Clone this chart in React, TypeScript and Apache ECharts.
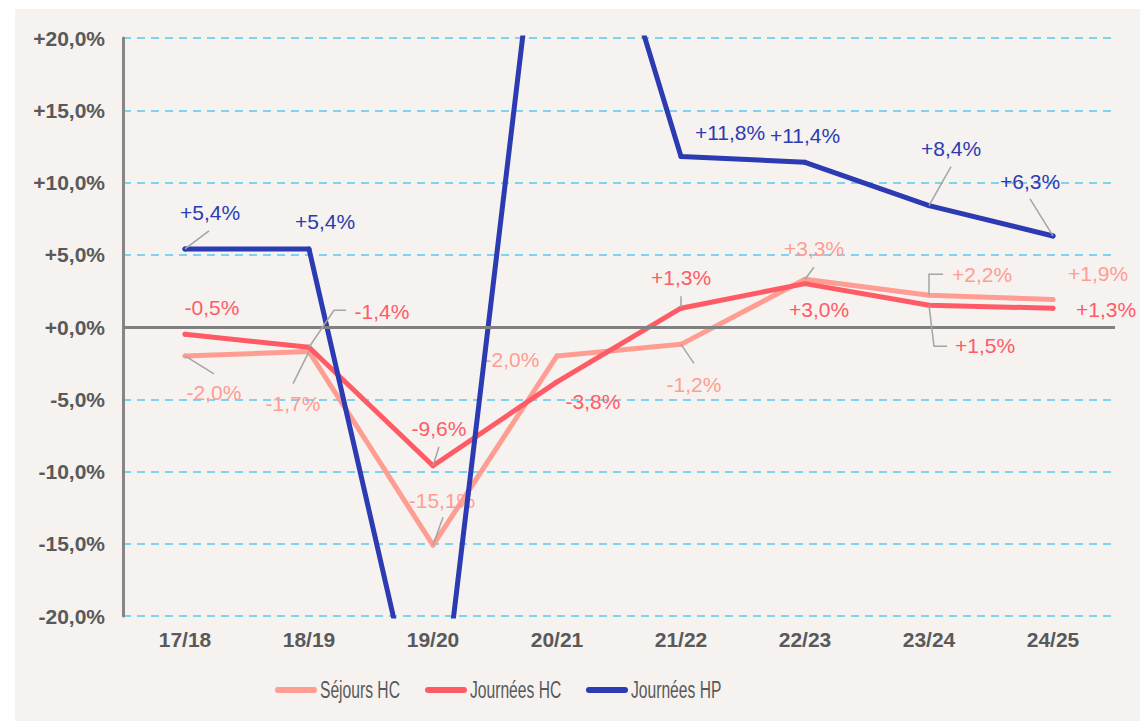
import React, { useEffect, useRef } from 'react';
import * as echarts from 'echarts';

const categories = ['17/18', '18/19', '19/20', '20/21', '21/22', '22/23', '23/24', '24/25'];
const seriesNames = ['Séjours HC', 'Journées HC', 'Journées HP'];
const sejoursHC = [-2.0, -1.7, -15.1, -2.0, -1.2, 3.3, 2.2, 1.9];
const journeesHC = [-0.5, -1.4, -9.6, -3.8, 1.3, 3.0, 1.5, 1.3];
const journeesHP = [5.4, 5.4, -32.0, 40.0, 11.8, 11.4, 8.4, 6.3];
const yMin = -20;
const yMax = 20;
const yInterval = 5;

const seriesColors = ['#ff9d93', '#ff5b67', '#2c3bb2'];

// label centre offsets (px) relative to the data point
const sejoursLabelOffsets = [[29, 37], [-16, 52], [9, -45], [-45, 4], [13, 40], [9, -31], [53, -21], [45, -26]];
const journeesHCLabelOffsets = [[27, -27], [73, -36], [6, -37], [36, 20], [0, -31], [14, 26], [56, 40], [53, 1]];
const journeesHPLabelOffsets = [[25, -36], [16, -27], [0, 0], [0, 0], [49, -24], [0, -27], [22, -57], [-23, -54]];

// leader lines (px, relative to the data point)
const sejoursLeaders = [
  [[0, 0], [29, 18]], [[0, 0], [-16, 32]], [[0, 0], [10, -28]], null,
  [[0, 0], [13, 19]], [[0, 0], [9, -12]], [[0, 0], [0, -21], [14, -21]], null,
];
const journeesHCLeaders = [
  null, [[0, 0], [25, -37], [37, -37]], [[0, 0], [6, -19]], null,
  [[0, -1], [0, -12]], null, [[0, 0], [5, 41], [18, 41]], null,
];
const journeesHPLeaders = [
  [[0, 0], [24, -18]], null, null, null,
  null, null, [[0, 0], [22, -39]], [[0, 0], [-23, -37]],
];

// legend layout (px)
const legendIconX = [275, 425, 586];
const legendY = 690;

const fmt = (v: number) => (v >= 0 ? '+' : '-') + Math.abs(v).toFixed(1).replace('.', ',') + '%';

const allValues = [sejoursHC, journeesHC, journeesHP];
const allOffsets = [sejoursLabelOffsets, journeesHCLabelOffsets, journeesHPLabelOffsets];
const allLeaders: any[] = [sejoursLeaders, journeesHCLeaders, journeesHPLeaders];

export default function App() {
  const ref = useRef<HTMLDivElement>(null);
  useEffect(() => {
    document.body.style.margin = '0';
    const chart = echarts.init(ref.current!, null, { renderer: 'svg' });
    const labelFont = '"Liberation Sans", Arial, sans-serif';

    const lineSeries = allValues.map((vals, s) => ({
      type: 'line',
      name: seriesNames[s],
      z: 2 + s,
      symbol: 'circle',
      symbolSize: 5,
      showSymbol: true,
      clip: true,
      lineStyle: { color: seriesColors[s], width: 5, cap: 'round', join: 'round' },
      itemStyle: { color: seriesColors[s] },
      emphasis: { disabled: true },
      label: {
        show: true,
        position: 'inside',
        align: 'center',
        verticalAlign: 'middle',
        fontSize: 21,
        fontFamily: labelFont,
        color: seriesColors[s],
        formatter: (p: any) => fmt(p.value),
      },
      data: vals.map((v, i) => ({
        value: v,
        label: { offset: allOffsets[s][i], show: v >= yMin && v <= yMax },
      })),
      ...(s === 0
        ? {
            markLine: {
              silent: true,
              symbol: ['none', 'none'],
              label: { show: false },
              lineStyle: { color: '#808080', width: 3, type: 'solid' },
              emphasis: { disabled: true },
              data: [{ yAxis: 0 }],
            },
          }
        : {}),
    }));

    const leaderData: number[][] = [];
    allValues.forEach((vals, s) =>
      allLeaders[s].forEach((l: any, i: number) => {
        if (l) leaderData.push([i, vals[i], s]);
      })
    );

    const leaderSeries = {
      type: 'custom',
      name: 'leaders',
      silent: true,
      clip: false,
      z: 6,
      data: leaderData,
      encode: { x: 0, y: 1 },
      renderItem: (params: any, api: any) => {
        const i = api.value(0);
        const v = api.value(1);
        const s = api.value(2);
        const base = api.coord([i, v]);
        const pts = allLeaders[s][i].map((p: number[]) => [base[0] + p[0], base[1] + p[1]]);
        return {
          type: 'polyline',
          shape: { points: pts },
          style: { stroke: '#a5a5a5', lineWidth: 1.5, fill: null },
        };
      },
    };

    const legendGraphics = seriesNames.map((name, s) => ({
      type: 'group',
      children: [
        {
          type: 'rect',
          shape: { x: legendIconX[s], y: legendY - 3, width: 42, height: 6, r: 3 },
          style: { fill: seriesColors[s] },
        },
        {
          type: 'text',
          x: legendIconX[s] + 45,
          y: legendY,
          scaleX: 0.68,
          style: {
            text: name,
            fontSize: 23,
            fontFamily: labelFont,
            fill: '#595959',
            align: 'left',
            verticalAlign: 'middle',
          },
        },
      ],
    }));

    chart.setOption({
      animation: false,
      grid: { left: 123, right: 25, top: 38, bottom: 105, containLabel: false },
      legend: { show: false, data: seriesNames },
      graphic: legendGraphics,
      xAxis: {
        type: 'category',
        data: categories,
        boundaryGap: true,
        axisLine: { show: false },
        axisTick: { show: false },
        splitLine: { show: false },
        axisLabel: {
          fontSize: 21,
          fontWeight: 'bold',
          color: '#595959',
          margin: 13,
          fontFamily: labelFont,
        },
      },
      yAxis: {
        type: 'value',
        min: yMin,
        max: yMax,
        interval: yInterval,
        axisLine: { show: true, lineStyle: { color: '#868686', width: 3 } },
        axisTick: { show: false },
        axisLabel: {
          formatter: (v: number) => fmt(v),
          fontSize: 21,
          fontWeight: 'bold',
          color: '#595959',
          margin: 18,
          fontFamily: labelFont,
        },
        splitLine: { show: true, lineStyle: { color: '#7fd2f0', width: 2, type: [8, 6] } },
      },
      series: [...lineSeries, leaderSeries],
    });
    return () => chart.dispose();
  }, []);

  return (
    <div style={{ position: 'relative', width: 1140, height: 721, background: '#ffffff' }}>
      <div style={{ position: 'absolute', left: 15, top: 9, right: 0, bottom: 0, background: '#f5f2ef' }} />
      <div ref={ref} style={{ position: 'absolute', left: 0, top: 0, width: 1140, height: 721 }} />
    </div>
  );
}
